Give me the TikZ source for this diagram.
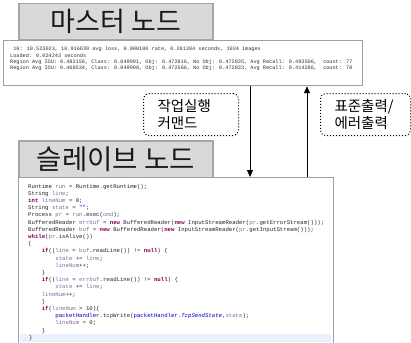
\documentclass[tikz,border=0pt]{standalone}
\usepackage{fontspec}
\usetikzlibrary{arrows.meta}
\newfontfamily\krfont{Noto Sans CJK KR}
\newfontfamily\codefont{Liberation Mono}
\definecolor{titlefill}{HTML}{D9D9D9}
\definecolor{titleline}{HTML}{A6A6A6}
\definecolor{boxline}{HTML}{A0A0A0}
\definecolor{kwc}{HTML}{7F0055}
\definecolor{varc}{HTML}{7A6FA0}
\definecolor{fldc}{HTML}{0000C0}
\definecolor{strc}{HTML}{2A00FF}
\definecolor{logtext}{HTML}{303030}
\definecolor{curline}{HTML}{E8F2FE}
\newcommand{\kwd}[1]{\textcolor{kwc}{\bfseries #1}}
\newcommand{\vrb}[1]{\textcolor{varc}{#1}}
\newcommand{\fld}[1]{\textcolor{fldc}{#1}}
\newcommand{\sfld}[1]{\textcolor{fldc}{\itshape #1}}
\begin{document}
\begin{tikzpicture}[x=1pt,y=-1pt,
  titlebox/.style={draw=titleline, fill=titlefill, line width=1.5pt, minimum width=194pt,
    inner sep=0pt, anchor=north west, text=black!90, font=\krfont\fontsize{27}{31}\selectfont},
  panel/.style={draw=boxline, fill=white, line width=1.2pt, inner sep=0pt, anchor=north west},
  notebox/.style={draw, dotted, line width=1pt, rounded corners=5pt, anchor=north west,
    inner xsep=14pt, inner ysep=0pt, minimum height=42pt, align=left,
    font=\krfont\fontsize{14.5}{17}\selectfont},
  logln/.style={anchor=base west, inner sep=0pt, text=logtext, font=\codefont\fontsize{5.2}{6}\selectfont},
  codeln/.style={anchor=base west, inner sep=0pt, text=black!85, font=\codefont\fontsize{5.67}{7}\selectfont},
  flow/.style={draw=black, line width=1pt, -{Triangle[length=7pt,width=6pt]}}
]
\useasboundingbox (0,0) rectangle (411,342);

% master
\node[titlebox, minimum height=36pt] (mtitle) at (18,3) {마스터 노드};
\node[panel, minimum width=359pt, minimum height=45pt] (log) at (3,40) {};
\node[logln] (l1) at (10,51) {\ 16: 10.523023, 10.916639 avg loss, 0.000100 rate, 0.261304 seconds, 1024 images};
\node[logln] (l2) at (10,57.3) {Loaded: 0.024243 seconds};
\node[logln] (l3) at (10,63.6) {Region Avg IOU: 0.482156, Class: 0.049991, Obj: 0.472616, No Obj: 0.472835, Avg Recall: 0.493506,\ \ count: 77};
\node[logln] (l4) at (10,69.9) {Region Avg IOU: 0.468534, Class: 0.049998, Obj: 0.472566, No Obj: 0.472833, Avg Recall: 0.414286,\ \ count: 70};

% slave
\node[titlebox, minimum height=37pt, font=\krfont\fontsize{27.5}{31}\selectfont] (stitle) at (18,140) {슬레이브 노드};
\node[panel, minimum width=315pt, minimum height=175pt] (code) at (18,177) {};
\node[fill=curline, inner sep=0pt, anchor=north west, minimum width=311pt, minimum height=8pt] (cur) at (20,334) {};

\node[codeln] (c1) at (28,188.0) {Runtime \vrb{run} = Runtime.getRuntime();};
\node[codeln] (c2) at (28,195.2) {String \vrb{line};};
\node[codeln] (c3) at (28,202.4) {\kwd{int} \vrb{lineNum} = 0;};
\node[codeln] (c4) at (28,209.6) {String \vrb{state} = \textcolor{strc}{""};};
\node[codeln] (c5) at (28,216.8) {Process \vrb{pr} = \vrb{run}.exec(\vrb{cmd});};
\node[codeln] (c6) at (28,224.0) {BufferedReader \vrb{errbuf} = \kwd{new} BufferedReader(\kwd{new} InputStreamReader(\vrb{pr}.getErrorStream()));};
\node[codeln] (c7) at (28,231.2) {BufferedReader \vrb{buf} = \kwd{new} BufferedReader(\kwd{new} InputStreamReader(\vrb{pr}.getInputStream()));};
\node[codeln] (c8) at (28,238.4) {\kwd{while}(\vrb{pr}.isAlive())};
\node[codeln] (c9) at (28,245.6) {\{};
\node[codeln] (c10) at (41.6,252.8) {\kwd{if}((\vrb{line} = \vrb{buf}.readLine()) != \kwd{null}) \{};
\node[codeln] (c11) at (55.2,260.0) {\vrb{state} += \vrb{line};};
\node[codeln] (c12) at (55.2,267.2) {\vrb{lineNum}++;};
\node[codeln] (c13) at (41.6,274.4) {\}};
\node[codeln] (c14) at (41.6,281.6) {\kwd{if}((\vrb{line} = \vrb{errbuf}.readLine()) != \kwd{null}) \{};
\node[codeln] (c15) at (55.2,288.8) {\vrb{state} += \vrb{line};};
\node[codeln] (c16) at (41.6,296.0) {\vrb{lineNum}++;};
\node[codeln] (c17) at (41.6,303.2) {\}};
\node[codeln] (c18) at (41.6,310.4) {\kwd{if}(\vrb{lineNum} > 10)\{};
\node[codeln] (c19) at (55.2,317.6) {\fld{packetHandler}.tcpWrite(\fld{packetHandler}.\sfld{TcpSendState},\vrb{state});};
\node[codeln] (c20) at (55.2,324.8) {\vrb{lineNum} = 0;};
\node[codeln] (c21) at (41.6,332.0) {\}};
\node[codeln] (c22) at (29,339.2) {\}};

% notes
\node[notebox, text width=67pt] (cmdnote) at (143,93) {작업실행\\커맨드};
\node[notebox, text width=62pt] (outnote) at (320,93) {표준출력/\\에러출력};

% connectors
\coordinate (downx) at (250,0);
\coordinate (upx) at (307,0);
\draw[flow] (downx |- log.south) -- (downx |- code.north);
\draw[flow] (upx |- code.north) -- (upx |- log.south);
\end{tikzpicture}
\end{document}
